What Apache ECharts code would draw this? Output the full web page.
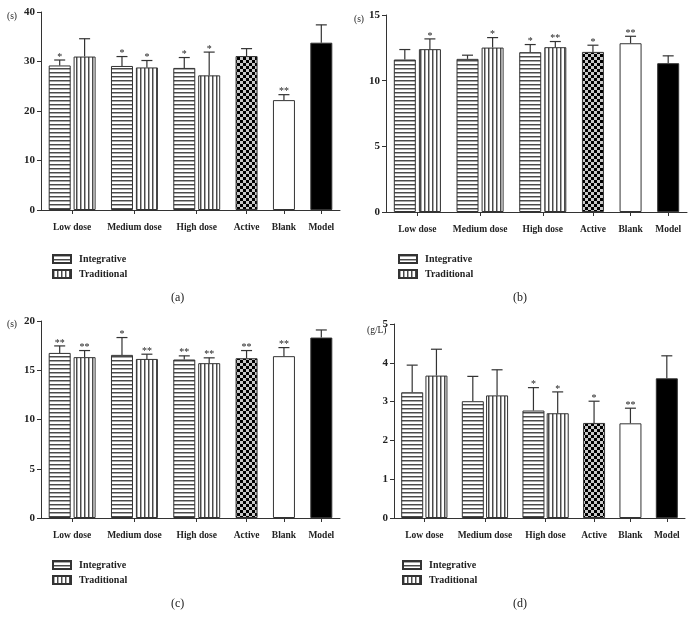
<!DOCTYPE html>
<html><head><meta charset="utf-8">
<script src="https://cdn.jsdelivr.net/npm/echarts@6/dist/echarts.min.js"></script>
<style>html,body{margin:0;padding:0;background:#fff}#chart{width:695px;height:630px}</style>
</head><body><div id="chart"></div>
<script>
// ---------- DATA ----------
const categories = ['Low dose', 'Medium dose', 'High dose', 'Active', 'Blank', 'Model'];
const seriesNames = ['Integrative', 'Traditional'];

// (a)
const aIntegrative = [29.2, 29.1, 28.7];
const aIntegrativeSD = [1.1, 1.9, 2.1];
const aIntegrativeStars = ['*', '*', '*'];
const aTraditional = [31.0, 28.8, 27.2];
const aTraditionalSD = [3.6, 1.4, 4.7];
const aTraditionalStars = ['', '*', '*'];
const aControls = [31.1, 22.2, 33.8];      // Active, Blank, Model
const aControlsSD = [1.5, 1.1, 3.6];
const aControlsStars = ['', '**', ''];
const aTicks = [0, 10, 20, 30, 40];
const aUnit = '(s)';

// (b)
const bIntegrative = [11.61, 11.66, 12.17];
const bIntegrativeSD = [0.76, 0.28, 0.58];
const bIntegrativeStars = ['', '', '*'];
const bTraditional = [12.40, 12.52, 12.55];
const bTraditionalSD = [0.78, 0.76, 0.43];
const bTraditionalStars = ['*', '*', '**'];
const bControls = [12.19, 12.85, 11.33];
const bControlsSD = [0.51, 0.53, 0.56];
const bControlsStars = ['*', '**', ''];
const bTicks = [0, 5, 10, 15];
const bUnit = '(s)';

// (c)
const cIntegrative = [16.76, 16.56, 16.09];
const cIntegrativeSD = [0.71, 1.76, 0.37];
const cIntegrativeStars = ['**', '*', '**'];
const cTraditional = [16.33, 16.15, 15.72];
const cTraditionalSD = [0.67, 0.48, 0.54];
const cTraditionalStars = ['**', '**', '**'];
const cControls = [16.22, 16.43, 18.32];
const cControlsSD = [0.78, 0.87, 0.77];
const cControlsStars = ['**', '**', ''];
const cTicks = [0, 5, 10, 15, 20];
const cUnit = '(s)';

// (d)
const dIntegrative = [3.24, 3.01, 2.77];
const dIntegrativeSD = [0.70, 0.64, 0.59];
const dIntegrativeStars = ['', '', '*'];
const dTraditional = [3.67, 3.16, 2.70];
const dTraditionalSD = [0.68, 0.66, 0.55];
const dTraditionalStars = ['', '', '*'];
const dControls = [2.45, 2.44, 3.60];
const dControlsSD = [0.56, 0.39, 0.58];
const dControlsStars = ['*', '**', ''];
const dTicks = [0, 1, 2, 3, 4, 5];
const dUnit = '(g/L)';

const captions = ['(a)', '(b)', '(c)', '(d)'];

// ---------- LAYOUT / STYLE ----------
const FONT = '"Liberation Serif", "Times New Roman", serif';
const INK = '#222';
function mkPattern(w, h, draw) {
  const c = document.createElement('canvas'); c.width = w; c.height = h;
  draw(c.getContext('2d')); return { image: c, repeat: 'repeat' };
}
const hStripe = mkPattern(4, 4, g => {
  g.fillStyle = '#fff'; g.fillRect(0, 0, 4, 4);
  g.fillStyle = '#4a4a4a'; g.fillRect(0, 0, 4, 1);
  g.fillStyle = '#a8a8a8'; g.fillRect(0, 1, 4, 1);
});
const vStripe = mkPattern(4, 4, g => {
  g.fillStyle = '#fff'; g.fillRect(0, 0, 4, 4);
  g.fillStyle = '#4a4a4a'; g.fillRect(0, 0, 1, 4);
  g.fillStyle = '#a8a8a8'; g.fillRect(1, 0, 1, 4);
});
const checker = mkPattern(6, 6, g => {
  g.fillStyle = '#c8c8c8'; g.fillRect(0, 0, 6, 6);
  g.fillStyle = '#000'; g.fillRect(0, 0, 3, 3); g.fillRect(3, 3, 3, 3);
});
const controlFills = [checker, '#fff', '#000'];

const SLOTS = 24;
const pairCenters = [2, 7, 12];
const ctlSlots = [16, 19, 22];
const labelSlots = pairCenters.concat(ctlSlots);
const xLabels = Array(SLOTS).fill('');
labelSlots.forEach((s, i) => { xLabels[s] = categories[i]; });
function place(vals, slots) {
  const arr = Array(SLOTS).fill(null);
  vals.forEach((v, i) => { arr[slots[i]] = v; });
  return arr;
}

const panels = [
  { int: aIntegrative, intSD: aIntegrativeSD, intStar: aIntegrativeStars, trad: aTraditional, tradSD: aTraditionalSD, tradStar: aTraditionalStars, ctl: aControls, ctlSD: aControlsSD, ctlStar: aControlsStars, ticks: aTicks, unit: aUnit },
  { int: bIntegrative, intSD: bIntegrativeSD, intStar: bIntegrativeStars, trad: bTraditional, tradSD: bTraditionalSD, tradStar: bTraditionalStars, ctl: bControls, ctlSD: bControlsSD, ctlStar: bControlsStars, ticks: bTicks, unit: bUnit },
  { int: cIntegrative, intSD: cIntegrativeSD, intStar: cIntegrativeStars, trad: cTraditional, tradSD: cTraditionalSD, tradStar: cTraditionalStars, ctl: cControls, ctlSD: cControlsSD, ctlStar: cControlsStars, ticks: cTicks, unit: cUnit },
  { int: dIntegrative, intSD: dIntegrativeSD, intStar: dIntegrativeStars, trad: dTraditional, tradSD: dTraditionalSD, tradStar: dTraditionalStars, ctl: dControls, ctlSD: dControlsSD, ctlStar: dControlsStars, ticks: dTicks, unit: dUnit }
];

const grids = [
  { left: 41, top: 12, width: 299, height: 198 },
  { left: 386, top: 15, width: 301, height: 197 },
  { left: 41, top: 321, width: 299, height: 197 },
  { left: 394, top: 324, width: 291, height: 194 }
];
const legendPos = [
  { left: 47, top: 249 }, { left: 393, top: 249 },
  { left: 47, top: 555 }, { left: 397, top: 555 }
];
// top-left of the unit text
const unitPos = [[7, 11], [354, 14], [7, 319], [367, 325]];
// centre of the caption
const captionPos = [[178, 298], [520, 298], [178, 604], [520, 604]];

const option = {
  animation: false,
  backgroundColor: '#fff',
  grid: grids.map(g => Object.assign({ containLabel: false }, g)),
  xAxis: grids.map((g, i) => ({
    type: 'category', gridIndex: i, data: xLabels, boundaryGap: true,
    axisLine: { show: true, lineStyle: { color: '#333', width: 1 } },
    axisTick: { show: true, alignWithLabel: true, length: 4, interval: (idx, v) => v !== '', lineStyle: { color: '#333' } },
    axisLabel: { interval: (idx, v) => v !== '', margin: 13, fontFamily: FONT, fontWeight: 'bold', fontSize: 9.5, color: INK },
    splitLine: { show: false }
  })),
  yAxis: panels.map((p, i) => ({
    type: 'value', gridIndex: i, min: p.ticks[0], max: p.ticks[p.ticks.length - 1],
    interval: p.ticks[1] - p.ticks[0],
    axisLine: { show: true, lineStyle: { color: '#333', width: 1 } },
    axisTick: { show: true, length: 4, lineStyle: { color: '#333' } },
    axisLabel: { margin: 6, fontFamily: FONT, fontWeight: 'bold', fontSize: 11, color: INK },
    splitLine: { show: false }
  })),
  legend: legendPos.map(lp => ({
    data: seriesNames, orient: 'vertical', left: lp.left, top: lp.top,
    icon: 'rect', itemWidth: 18, itemHeight: 8, itemGap: 5, selectedMode: false,
    textStyle: { fontFamily: FONT, fontWeight: 'bold', fontSize: 10, color: INK, padding: [0, 0, 0, 3] }
  })),
  graphic: [],
  series: []
};

panels.forEach((p, i) => {
  option.graphic.push({ type: 'text', left: unitPos[i][0], top: unitPos[i][1],
    style: { text: p.unit, font: '9.5px ' + FONT, fill: INK } });
  option.graphic.push({ type: 'text', left: captionPos[i][0] - 7, top: captionPos[i][1] - 6,
    style: { text: captions[i], font: '12px ' + FONT, fill: INK } });

  const common = { type: 'bar', xAxisIndex: i, yAxisIndex: i, barWidth: 22, barGap: '-100%', silent: true };
  option.series.push(Object.assign({}, common, {
    name: seriesNames[0], data: place(p.int, pairCenters.map(c => c - 1)),
    itemStyle: { color: hStripe, borderColor: '#333', borderWidth: 1 }
  }));
  option.series.push(Object.assign({}, common, {
    name: seriesNames[1], data: place(p.trad, pairCenters.map(c => c + 1)),
    itemStyle: { color: vStripe, borderColor: '#333', borderWidth: 1 }
  }));
  option.series.push(Object.assign({}, common, {
    name: 'Controls',
    data: place(p.ctl.map((v, j) => ({ value: v, itemStyle: { color: controlFills[j], borderColor: '#333', borderWidth: 1 } })), ctlSlots)
  }));

  const errData = [], stars = [];
  p.int.forEach((v, j) => { errData.push([pairCenters[j] - 1, v, p.intSD[j]]); stars.push(p.intStar[j]); });
  p.trad.forEach((v, j) => { errData.push([pairCenters[j] + 1, v, p.tradSD[j]]); stars.push(p.tradStar[j]); });
  p.ctl.forEach((v, j) => { errData.push([ctlSlots[j], v, p.ctlSD[j]]); stars.push(p.ctlStar[j]); });

  option.series.push({
    type: 'custom', name: 'err' + i, xAxisIndex: i, yAxisIndex: i, silent: true, z: 5,
    encode: { x: 0, y: 1 },
    data: errData,
    renderItem: (params, api) => {
      const x = api.value(0), v = api.value(1), sd = api.value(2);
      const p0 = api.coord([x, v]);
      const p1 = api.coord([x, v + sd]);
      const half = 5.5;
      const children = [
        { type: 'line', shape: { x1: p0[0], y1: p0[1], x2: p1[0], y2: p1[1] }, style: { stroke: '#333', lineWidth: 1.2 } },
        { type: 'line', shape: { x1: p1[0] - half, y1: p1[1], x2: p1[0] + half, y2: p1[1] }, style: { stroke: '#333', lineWidth: 1.2 } }
      ];
      const s = stars[params.dataIndex];
      if (s) {
        children.push({ type: 'text', style: { text: s, x: p1[0], y: p1[1] + 2, align: 'center', verticalAlign: 'bottom', font: '10px ' + FONT, fill: INK } });
      }
      return { type: 'group', children };
    }
  });
});

const chart = echarts.init(document.getElementById('chart'), null, { renderer: 'canvas' });
chart.setOption(option);
</script>
</body></html>
